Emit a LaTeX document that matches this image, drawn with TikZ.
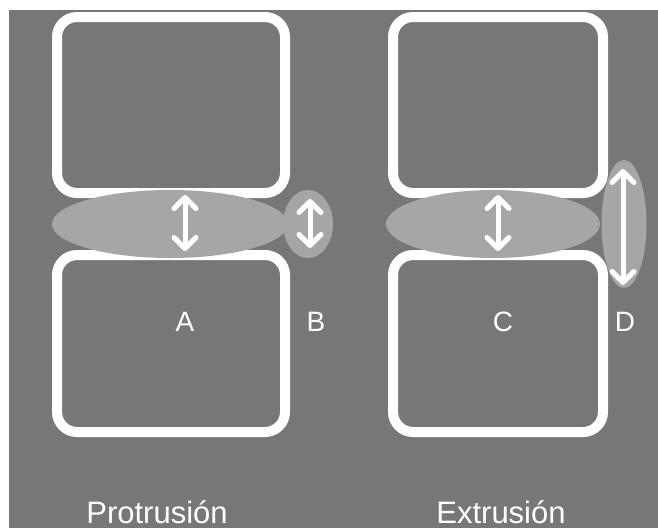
\documentclass[tikz,border=0pt]{standalone}
\usepackage{fontspec}
\setmainfont{Liberation Sans}
\usetikzlibrary{shapes.geometric,arrows.meta}
\definecolor{bgray}{HTML}{777777}
\definecolor{egray}{HTML}{A6A6A6}
\tikzset{
  vbox/.style={draw=white, line width=10pt, fill=bgray, rounded corners=20pt, inner sep=0pt},
  disc/.style={ellipse, fill=egray, inner sep=0pt},
  darrow/.style={white, line width=5pt, {Straight Barb[length=11pt,width=22pt,round]}-{Straight Barb[length=11pt,width=22pt,round]}},
  lbl/.style={text=white, font=\fontsize{28}{30}\selectfont},
  ttl/.style={text=white, font=\fontsize{31}{34}\selectfont, anchor=base}
}
\begin{document}
\begin{tikzpicture}[x=1pt,y=-1pt]
\useasboundingbox (0,0) rectangle (658,528);
\fill[white] (0,0) rectangle (658,528);
\fill[bgray] (9,10) rectangle (658,528);
% boxes
\node[vbox, minimum width=228pt, minimum height=176pt] (tl) at (171,105) {};
\node[vbox, minimum width=228pt, minimum height=177pt] (bl) at (171,343.5) {};
\node[vbox, minimum width=210pt, minimum height=176pt] (tr) at (498,105) {};
\node[vbox, minimum width=210pt, minimum height=177pt] (br) at (498,343.5) {};
% discs
\node[disc, minimum width=236pt, minimum height=68pt] (ea) at (170,224) {};
\node[disc, minimum width=50pt, minimum height=68pt] (eb) at (308,224) {};
\node[disc, minimum width=214pt, minimum height=68pt] (ec) at (493,224) {};
\node[disc, minimum width=45pt, minimum height=128pt] (ed) at (624,224) {};
% arrow endpoints
\coordinate (a1) at (185,195);
\coordinate (a2) at (185,251);
\coordinate (b1) at (310,199);
\coordinate (b2) at (310,248);
\coordinate (c1) at (498,195);
\coordinate (c2) at (498,251);
\coordinate (d1) at (623,169);
\coordinate (d2) at (623,285);
\draw[darrow] (a1) -- (a2);
\draw[darrow] (b1) -- (b2);
\draw[darrow] (c1) -- (c2);
\draw[darrow] (d1) -- (d2);
% labels
\node[lbl] (la) at (185,322) {A};
\node[lbl] (lb) at (316,322) {B};
\node[lbl] (lc) at (503,322) {C};
\node[lbl] (ld) at (625,322) {D};
\node[ttl] (tp) at (157,523) {Protrusión};
\node[ttl] (te) at (501,523) {Extrusión};
\end{tikzpicture}
\end{document}
